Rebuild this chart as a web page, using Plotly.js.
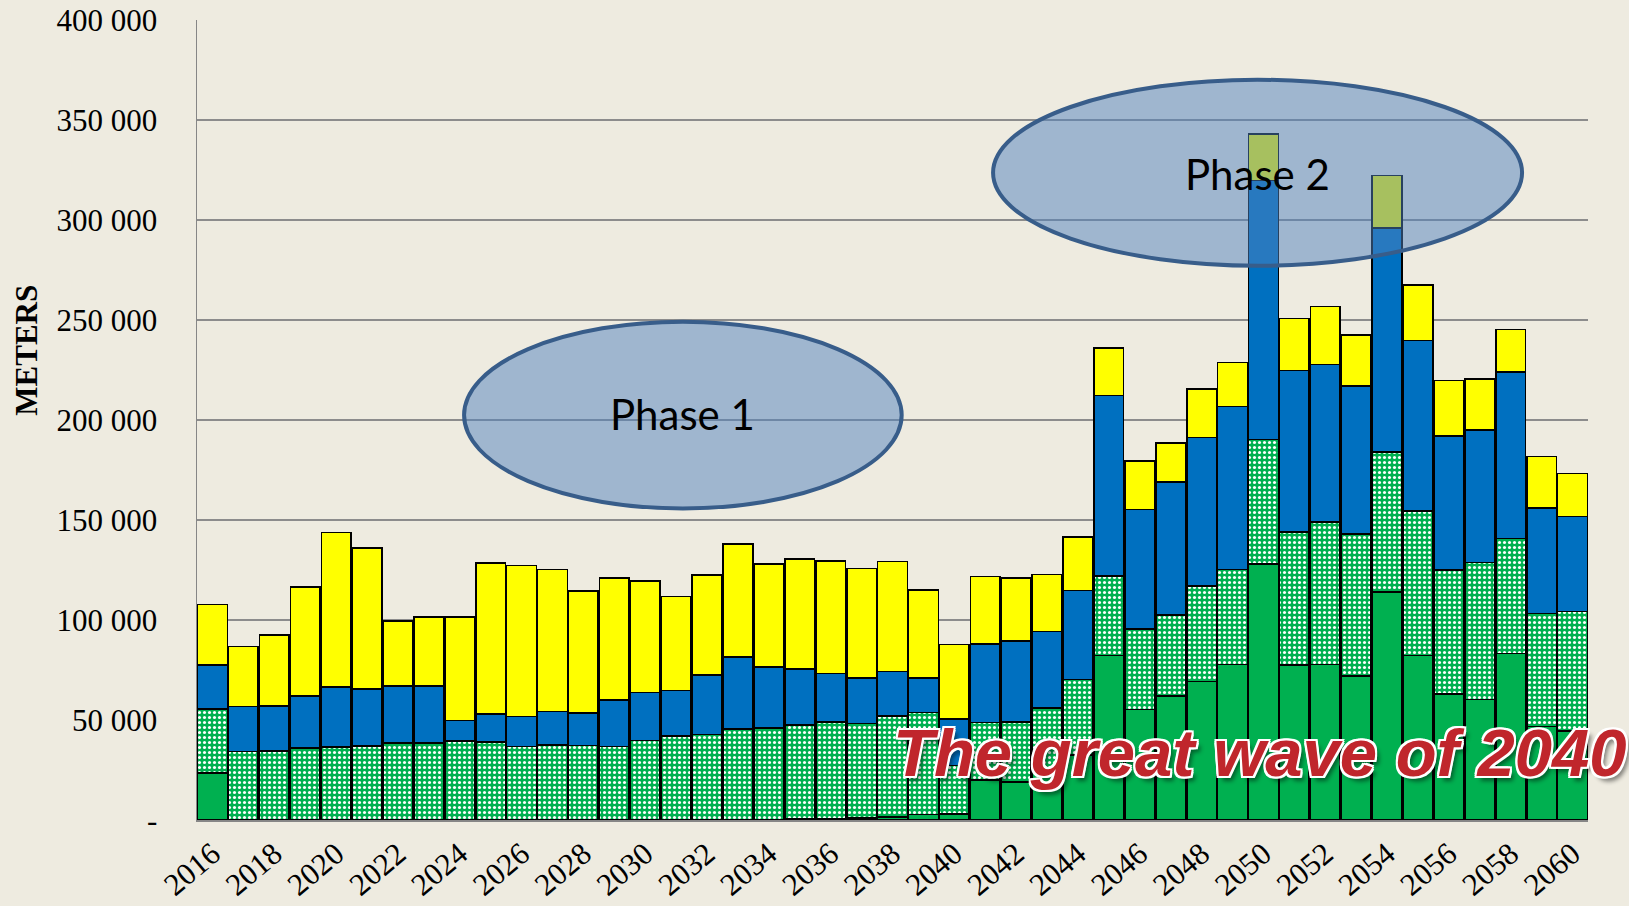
<!DOCTYPE html>
<html><head><meta charset="utf-8">
<script src="https://cdn.plot.ly/plotly-3.0.1.min.js"></script>
<style>html,body{margin:0;padding:0;background:#EEEBE0;} #chart{width:1629px;height:906px;}</style>
</head><body><div id="chart"></div>
<script>
const years = ['2016','2017','2018','2019','2020','2021','2022','2023','2024','2025',
  '2026','2027','2028','2029','2030','2031','2032','2033','2034','2035',
  '2036','2037','2038','2039','2040','2041','2042','2043','2044','2045',
  '2046','2047','2048','2049','2050','2051','2052','2053','2054','2055',
  '2056','2057','2058','2059','2060'];

const solidGreen = [23400,0,0,0,0,0,0,0,0,0,
  0,0,0,0,0,0,0,0,300,500,
  700,1000,1400,2700,3100,20100,18900,25000,32400,82250,
  55250,62000,69250,77850,128050,77550,77850,71900,114050,82200,
  62950,60150,83350,46650,44450];

const patternGreen = [32200,34250,34600,36100,36600,36900,38600,38600,39400,39100,
  36750,37400,37250,36750,39750,42000,42750,45400,45600,46900,
  48400,47250,50700,51050,24150,28650,30200,31100,37900,39750,
  40200,40550,47650,47350,62250,66400,71200,71100,69850,72250,
  62050,68550,57400,56650,59800];

const blue = [22000,22500,22500,25800,29800,28700,28300,28300,10350,14000,
  15000,16850,16150,23150,24000,22800,29650,36200,30500,28000,
  24150,22650,22150,17150,23350,39350,40500,38150,44400,90250,
  59850,66450,74400,81450,129450,80800,78750,73900,112200,85350,
  67050,66300,83300,52800,47600];

const yellow = [30150,30000,35300,54700,77350,70400,32700,34500,51650,75300,
  75500,71000,61200,61000,55650,46900,50000,56300,51700,55200,
  56350,54850,55000,44200,37150,33650,31500,28500,26750,23850,
  24150,19400,24150,22150,23350,26050,28900,25600,26150,27800,
  27750,25550,21300,25750,21300];

const xTickVals = ['2016','2018','2020','2022','2024','2026','2028','2030','2032','2034','2036',
  '2038','2040','2042','2044','2046','2048','2050','2052','2054','2056','2058','2060'];
const yTickVals = [0,50000,100000,150000,200000,250000,300000,350000,400000];
const yTickText = ['-','50 000','100 000','150 000','200 000','250 000','300 000','350 000','400 000'];

const outline = {color:'#000000', width:1.5};
const traces = [
  {type:'bar', name:'solid', x:years, y:solidGreen, marker:{color:'#00B050', line:outline}},
  {type:'bar', name:'pattern', x:years, y:patternGreen, marker:{color:'#00B050', line:outline,
     pattern:{shape:'.', fgcolor:'#FFFFFF', bgcolor:'#00B050', size:5, solidity:0.3}}},
  {type:'bar', name:'blue', x:years, y:blue, marker:{color:'#0070C0', line:outline}},
  {type:'bar', name:'yellow', x:years, y:yellow, marker:{color:'#FFFF00', line:outline}}
];

const serif = 'Liberation Serif, Times New Roman, serif';
const layout = {
  width:1629, height:906,
  margin:{l:197, r:41, t:20, b:86},
  paper_bgcolor:'#EEEBE0', plot_bgcolor:'#EEEBE0',
  barmode:'stack', bargap:0.04, showlegend:false,
  xaxis:{type:'category', tickvals:xTickVals, ticktext:xTickVals, tickangle:-40,
    tickfont:{family:serif, size:31, color:'#000'}, showgrid:false,
    showline:true, linecolor:'#868686', linewidth:1.5, ticks:'', ticklabelstandoff:2},
  yaxis:{range:[0,400000], tickvals:yTickVals, ticktext:yTickText,
    tickfont:{family:serif, size:31, color:'#000'}, showgrid:true, gridcolor:'#8C8C8C', gridwidth:1.3,
    showline:true, linecolor:'#868686', linewidth:1.5, ticks:'', ticklabelstandoff:32, zeroline:false},
  shapes:[
    {type:'circle', xref:'paper', yref:'paper', x0:0.1920, x1:0.5066, y0:0.3894, y1:0.6228,
     fillcolor:'rgba(79,129,189,0.5)', line:{color:'#385D8A', width:4}, layer:'above'},
    {type:'circle', xref:'paper', yref:'paper', x0:0.5723, x1:0.9526, y0:0.6928, y1:0.9253,
     fillcolor:'rgba(79,129,189,0.5)', line:{color:'#385D8A', width:4}, layer:'above'}
  ],
  annotations:[
    {text:'<b>METERS</b>', xref:'paper', yref:'paper', x:-0.1227, y:0.587, textangle:-90,
     xanchor:'center', yanchor:'middle',
     showarrow:false, font:{family:serif, size:31, color:'#000'}},
    {text:'Phase 1', xref:'paper', yref:'paper', x:0.349, y:0.507, xanchor:'center', yanchor:'middle',
     showarrow:false, font:{family:'Lato, Carlito, sans-serif', size:42, color:'#000'}},
    {text:'Phase 2', xref:'paper', yref:'paper', x:0.7624, y:0.808, xanchor:'center', yanchor:'middle',
     showarrow:false, font:{family:'Lato, Carlito, sans-serif', size:42, color:'#000'}},
    {text:'<b><i>The great wave of 2040</i></b>', xref:'paper', yref:'paper', x:0.7642, y:0.084,
     xanchor:'center', yanchor:'middle', showarrow:false,
     font:{family:'Liberation Sans, Arial, sans-serif', size:67, color:'#C0262C',
       shadow:'-2px -2px 0 #fff, 2px -2px 0 #fff, -2px 2px 0 #fff, 2px 2px 0 #fff, 0 -2px 0 #fff, 0 2px 0 #fff, -2px 0 0 #fff, 2px 0 0 #fff, 4px 5px 4px rgba(0,0,0,0.45)'}}
  ]
};
Plotly.newPlot('chart', traces, layout, {displayModeBar:false, staticPlot:true});
</script>
</body></html>
